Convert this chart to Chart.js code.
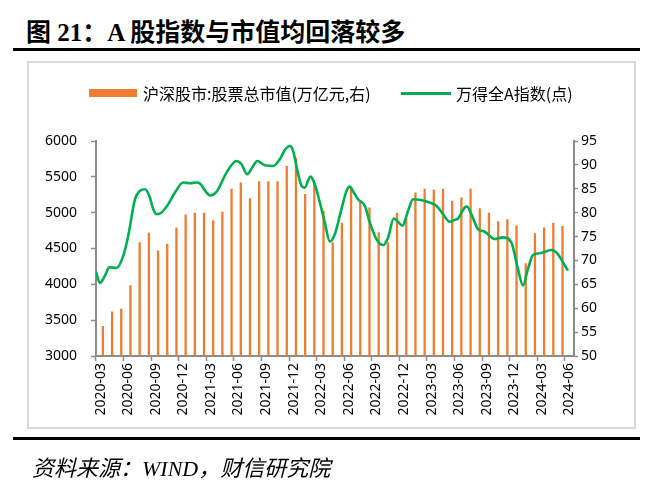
<!DOCTYPE html>
<html>
<head>
<meta charset="utf-8">
<script src="https://cdn.jsdelivr.net/npm/chart.js@4.4.0/dist/chart.umd.min.js"></script>
<style>
  html, body { margin: 0; padding: 0; background: #fff; }
  body { width: 661px; height: 493px; position: relative; overflow: hidden; }
  #title { position: absolute; left: 26px; top: 12px; font-family: "Liberation Serif", "Noto Sans CJK SC", serif; font-weight: 700; font-size: 25px; color: #000; white-space: nowrap; }
  .rule { position: absolute; left: 13px; width: 627px; height: 3px; background: #000; }
  #frame { position: absolute; left: 27px; top: 61px; width: 609px; height: 368px; border: 2px solid #d9d9d9; box-sizing: border-box; }
  #chartWrap { position: absolute; left: 0; top: 0; width: 661px; height: 493px; }
  .leg { position: absolute; font-family: "Noto Sans CJK SC", "Noto Sans", sans-serif; font-size: 16px; color: #000; white-space: nowrap; line-height: 1; }
  .sw { position: absolute; }
  #source { position: absolute; left: 32px; top: 450px; font-family: "Liberation Serif", "Noto Sans CJK SC", serif; font-style: italic; font-size: 22px; color: #000; white-space: nowrap; }
</style>
</head>
<body>
<div id="title">图 21：A 股指数与市值均回落较多</div>
<div class="rule" style="top:48px"></div>
<div id="frame"></div>
<div id="chartWrap"><canvas id="c" width="661" height="493"></canvas></div>
<div class="sw" style="left:89px; top:89px; width:48px; height:8px; background:#ED7D31"></div>
<div class="leg" id="leg1" style="left:143px; top:85px">沪深股市:股票总市值(万亿元,右)</div>
<div class="sw" style="left:401px; top:92px; width:50px; height:3px; background:#00B050"></div>
<div class="leg" id="leg2" style="left:456px; top:85px">万得全A指数(点)</div>
<div class="rule" style="top:437px"></div>
<div id="source">资料来源：WIND，财信研究院</div>
<script>
// Categories (monthly)
const months = [
  '2020-03','2020-04','2020-05','2020-06','2020-07','2020-08','2020-09','2020-10','2020-11','2020-12',
  '2021-01','2021-02','2021-03','2021-04','2021-05','2021-06','2021-07','2021-08','2021-09','2021-10',
  '2021-11','2021-12','2022-01','2022-02','2022-03','2022-04','2022-05','2022-06','2022-07','2022-08',
  '2022-09','2022-10','2022-11','2022-12','2023-01','2023-02','2023-03','2023-04','2023-05','2023-06',
  '2023-07','2023-08','2023-09','2023-10','2023-11','2023-12','2024-01','2024-02','2024-03','2024-04',
  '2024-05','2024-06'
];
// 沪深股市:股票总市值 (万亿元, right axis)
const marketCap = [
  56.3, 59.3, 59.9, 64.8, 73.8, 75.8, 72.1, 73.5, 76.9, 79.6,
  80.0, 80.0, 78.4, 80.2, 85.0, 86.3, 83.0, 86.6, 86.6, 86.6,
  89.8, 91.5, 83.9, 86.3, 80.4, 73.8, 77.9, 85.3, 82.5, 81.1,
  75.9, 73.8, 80.0, 78.8, 84.2, 85.0, 84.8, 85.0, 82.5, 83.2,
  85.0, 80.9, 80.0, 78.2, 78.6, 77.3, 69.4, 75.7, 76.9, 77.9,
  77.2, null
];
// 万得全A指数 (点, left axis): position in months from 2020-03 (category index)
const indexPos = [
  -0.5, -0.07, 0.48, 0.95, 1.75, 2.47, 3.01, 3.74, 4.28, 4.83,
  5.3, 5.73, 6.09, 6.64, 7.36, 8.09, 8.99, 9.72, 10.44, 10.8,
  11.53, 11.9, 12.62, 13.7, 14.79, 15.33, 15.95, 16.6, 17.04, 17.87,
  18.78, 19.5, 20.04, 20.59, 20.95, 21.38, 21.86, 22.2, 22.83, 23.3,
  23.85, 24.39, 24.93, 25.48, 26.2, 26.75, 27.1, 27.54, 28.0, 28.74,
  29.28, 30.0, 30.73, 31.28, 31.89, 32.36, 32.83, 33.45, 33.99, 34.72,
  35.8, 36.53, 37.25, 37.98, 38.52, 38.88, 39.61, 39.86, 40.33, 41.06,
  41.78, 42.87, 43.77, 44.68, 45.4, 45.95, 46.49, 47.04, 47.94, 49.03,
  49.75, 50.3, 50.84
];
const indexValues = [
  4175, 4020, 4122, 4238, 4229, 4400, 4678, 5188, 5304, 5327,
  5235, 5049, 4980, 5003, 5119, 5281, 5420, 5411, 5420, 5406,
  5281, 5240, 5292, 5559, 5721, 5675, 5536, 5652, 5721, 5661,
  5652, 5745, 5874, 5930, 5860, 5605, 5374, 5350, 5503, 5397,
  5142, 4864, 4600, 4700, 5049, 5304, 5364, 5281, 5188, 5096,
  4864, 4632, 4548, 4655, 4919, 4873, 4817, 5026, 5188, 5179,
  5142, 5096, 4980, 4873, 4900, 4919, 5072, 5086, 4980, 4771,
  4734, 4632, 4655, 4585, 4215, 3983, 4215, 4409, 4437, 4479,
  4423, 4307, 4191
];
// Axis ranges / ticks
const leftAxis = { min: 3000, max: 6000, step: 500 };
const rightAxis = { min: 50, max: 95, step: 5 };
const labelEvery = 3;

const axisGray = '#8c8c8c';
const tickFont = { family: '"Noto Sans", "Noto Sans CJK SC", sans-serif', size: 14 };

const indexPoints = indexPos.map((p, i) => ({ x: p, y: indexValues[i] }));

new Chart(document.getElementById('c'), {
  data: {
    labels: months,
    datasets: [
      {
        type: 'line',
        label: '万得全A指数(点)',
        data: indexPoints,
        xAxisID: 'x2',
        yAxisID: 'y',
        borderColor: '#00B050',
        borderWidth: 2.6,
        pointRadius: 0,
        cubicInterpolationMode: 'monotone',
        fill: false,
        order: 1
      },
      {
        type: 'bar',
        label: '沪深股市:股票总市值(万亿元,右)',
        data: marketCap,
        xAxisID: 'x',
        yAxisID: 'y1',
        backgroundColor: '#ED7D31',
        barPercentage: 0.5,
        categoryPercentage: 1.0,
        order: 2
      }
    ]
  },
  options: {
    responsive: false,
    animation: false,
    devicePixelRatio: 1,
    layout: { padding: { left: 31, right: 47, top: 141, bottom: 57 } },
    plugins: { legend: { display: false }, tooltip: { enabled: false } },
    scales: {
      x: {
        type: 'category',
        position: 'bottom',
        offset: true,
        grid: {
          offset: true,
          drawOnChartArea: false,
          tickLength: 5,
          tickWidth: 1.5,
          tickColor: (ctx) => (ctx.index % labelEvery === 0 ? axisGray : 'rgba(0,0,0,0)')
        },
        border: { display: true, color: axisGray, width: 2 },
        ticks: {
          autoSkip: false,
          maxRotation: 90,
          minRotation: 90,
          padding: 2,
          color: '#000',
          font: tickFont,
          callback: function (val, idx) { return idx % labelEvery === 0 ? this.getLabelForValue(val) : ''; }
        },
        afterFit: (s) => { s.height = 80; }
      },
      x2: {
        type: 'linear',
        display: false,
        min: -0.5,
        max: months.length - 0.5
      },
      y: {
        type: 'linear',
        position: 'left',
        min: leftAxis.min,
        max: leftAxis.max,
        grid: { drawOnChartArea: false, tickLength: 5, tickColor: axisGray, tickWidth: 1.5 },
        border: { display: true, color: axisGray, width: 2 },
        ticks: { stepSize: leftAxis.step, padding: 14, color: '#000', font: tickFont, callback: (v) => String(v) },
        afterFit: (s) => { s.width = 65; }
      },
      y1: {
        type: 'linear',
        position: 'right',
        min: rightAxis.min,
        max: rightAxis.max,
        grid: { drawOnChartArea: false, tickLength: 4, tickColor: axisGray, tickWidth: 1.5 },
        border: { display: true, color: axisGray, width: 2 },
        ticks: { stepSize: rightAxis.step, padding: 3, color: '#000', font: tickFont, callback: (v) => String(v) },
        afterFit: (s) => { s.width = 40; }
      }
    }
  }
});
</script>
</body>
</html>
